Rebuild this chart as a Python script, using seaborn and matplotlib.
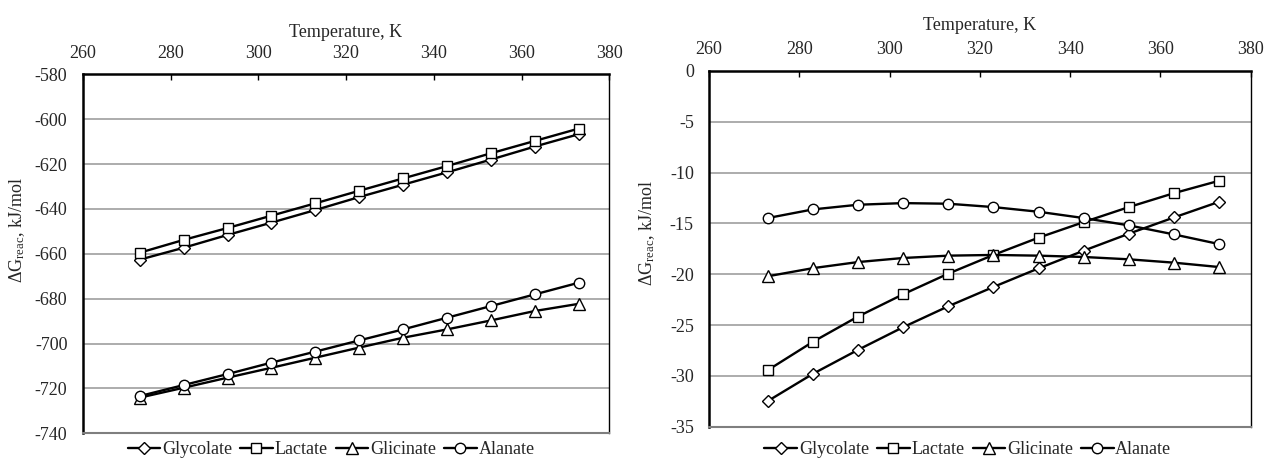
import pandas as pd
import matplotlib.pyplot as plt
import seaborn as sns

# data
temps = [273, 283, 293, 303, 313, 323, 333, 343, 353, 363, 373]
names = ['Glycolate', 'Lactate', 'Glicinate', 'Alanate']
markers = {'Glycolate': 'D', 'Lactate': 's', 'Glicinate': '^', 'Alanate': 'o'}
msizes = {'Glycolate': 6.0, 'Lactate': 6.5, 'Glicinate': 8.0, 'Alanate': 7.5}

# left panel
glycolate_1 = [-662.6, -657.3, -651.6, -646.1, -640.5, -634.7, -629.2, -623.7, -618.0, -612.2, -606.7]
lactate_1 = [-659.5, -653.8, -648.5, -643.0, -637.5, -631.9, -626.4, -620.9, -615.2, -609.7, -604.2]
glicinate_1 = [-724.1, -719.7, -715.2, -710.8, -706.3, -701.8, -697.4, -693.7, -689.7, -685.5, -682.3]
alanate_1 = [-723.4, -718.5, -713.6, -708.5, -703.6, -698.6, -693.7, -688.5, -683.3, -678.1, -672.9]

# right panel
glycolate_2 = [-32.48, -29.80, -27.44, -25.21, -23.15, -21.25, -19.42, -17.68, -16.01, -14.41, -12.87]
lactate_2 = [-29.44, -26.65, -24.16, -21.97, -19.94, -18.10, -16.40, -14.87, -13.39, -12.02, -10.80]
glicinate_2 = [-20.20, -19.40, -18.80, -18.40, -18.17, -18.10, -18.17, -18.30, -18.53, -18.86, -19.29]
alanate_2 = [-14.47, -13.62, -13.16, -13.00, -13.06, -13.39, -13.85, -14.47, -15.19, -16.08, -17.03]

xticks = [260, 280, 300, 320, 340, 360, 380]
yticks_1 = [-740, -720, -700, -680, -660, -640, -620, -600, -580]
yticks_2 = [-35, -30, -25, -20, -15, -10, -5, 0]


def long_df(series):
    rows = []
    for name, vals in zip(names, series):
        for t, v in zip(temps, vals):
            rows.append({'T': t, 'dG': v, 'compound': name})
    return pd.DataFrame(rows)


sns.set_style('white')
plt.rcParams['font.family'] = ['Liberation Serif', 'DejaVu Serif']
plt.rcParams['mathtext.fontset'] = 'custom'
plt.rcParams['mathtext.rm'] = 'Liberation Serif'
plt.rcParams['mathtext.it'] = 'Liberation Serif:italic'

fs = 13

fig = plt.figure(figsize=(12.65, 4.61), dpi=100)
ax1 = fig.add_axes([0.0654, 0.0601, 0.4163, 0.7787])
ax2 = fig.add_axes([0.5605, 0.0744, 0.4282, 0.7716])

panels = [
    (ax1, [glycolate_1, lactate_1, glicinate_1, alanate_1], yticks_1, (-0.106, 0.566), (0.4715, -0.046), 1.104),
    (ax2, [glycolate_2, lactate_2, glicinate_2, alanate_2], yticks_2, (-0.096, 0.545), (0.478, -0.065), 1.115),
]

for ax, series, yt, ylab_xy, leg_xy, xlab_y in panels:
    df = long_df(series)
    sns.lineplot(data=df, x='T', y='dG', hue='compound', style='compound',
                 hue_order=names, style_order=names,
                 palette={n: 'black' for n in names}, markers=markers, dashes=False,
                 linewidth=1.7, markerfacecolor='white', markeredgecolor='black',
                 markeredgewidth=1.0, legend=False, ax=ax, zorder=3)
    lines = ax.get_lines()
    for ln, n in zip(lines, names):
        ln.set_markersize(msizes[n])

    ax.set_xlim(260, 380)
    ax.set_ylim(yt[0], yt[-1])
    ax.set_xticks(xticks)
    ax.set_yticks(yt)
    ax.set_yticklabels([str(v) for v in yt])
    ax.xaxis.tick_top()
    ax.xaxis.set_label_position('top')
    ax.tick_params(axis='x', which='both', direction='in', length=4, width=1,
                   color='black', labelsize=fs, pad=9, top=True, bottom=False)
    ax.tick_params(axis='y', length=0, labelsize=fs, pad=11)

    ax.yaxis.grid(True, color='#a6a6a6', linewidth=1.3)
    ax.xaxis.grid(False)
    ax.set_axisbelow(True)

    for side in ['left', 'top']:
        ax.spines[side].set_color('black')
        ax.spines[side].set_linewidth(1.8)
    ax.spines['right'].set_color('black')
    ax.spines['right'].set_linewidth(1.0)
    ax.spines['bottom'].set_color('#7f7f7f')
    ax.spines['bottom'].set_linewidth(1.5)
    for s in ax.spines.values():
        s.set_visible(True)

    ax.set_xlabel('Temperature, K', fontsize=fs)
    ax.xaxis.set_label_coords(0.5, xlab_y)
    ax.set_ylabel('ΔG$_{\\mathrm{reac}}$, kJ/mol', fontsize=fs)
    ax.yaxis.set_label_coords(*ylab_xy)

    ax.legend(handles=lines, labels=names, loc='center', bbox_to_anchor=leg_xy,
              ncol=4, frameon=False, fontsize=fs, handlelength=1.8,
              handletextpad=0.1, columnspacing=0.45, borderpad=0)

plt.savefig('out.png', dpi=100)
